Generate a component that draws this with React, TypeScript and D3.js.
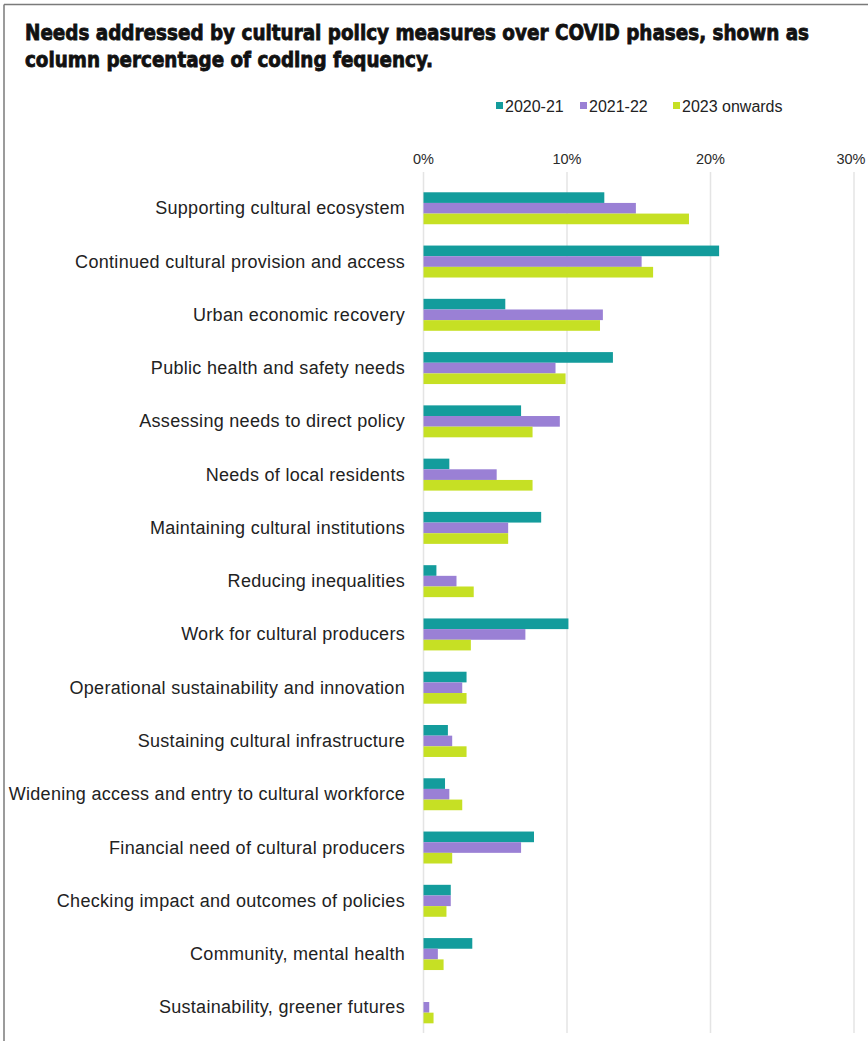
import React from "react";
import * as d3 from "d3";

// Needs categories, top to bottom
const categories: string[] = [
  "Supporting cultural ecosystem",
  "Continued cultural provision and access",
  "Urban economic recovery",
  "Public health and safety needs",
  "Assessing needs to direct policy",
  "Needs of local residents",
  "Maintaining cultural institutions",
  "Reducing inequalities",
  "Work for cultural producers",
  "Operational sustainability and innovation",
  "Sustaining cultural infrastructure",
  "Widening access and entry to cultural workforce",
  "Financial need of cultural producers",
  "Checking impact and outcomes of policies",
  "Community, mental health",
  "Sustainability, greener futures",
];

const seriesNames: string[] = ["2020-21", "2021-22", "2023 onwards"];
const seriesColors: string[] = ["#139c9c", "#9a80d5", "#c6e024"];

// Column percentage of coding frequency per phase
const phase2020: number[] = [12.6, 20.6, 5.7, 13.2, 6.8, 1.8, 8.2, 0.9, 10.1, 3.0, 1.7, 1.5, 7.7, 1.9, 3.4, 0];
const phase2021: number[] = [14.8, 15.2, 12.5, 9.2, 9.5, 5.1, 5.9, 2.3, 7.1, 2.7, 2.0, 1.8, 6.8, 1.9, 1.0, 0.4];
const phase2023: number[] = [18.5, 16.0, 12.3, 9.9, 7.6, 7.6, 5.9, 3.5, 3.3, 3.0, 3.0, 2.7, 2.0, 1.6, 1.4, 0.7];

const tickValues: number[] = [0, 10, 20, 30];

const titleLines: string[] = [
  "Needs addressed by cultural policy measures over COVID phases, shown as",
  "column percentage of coding fequency.",
];

const W = 868;
const H = 1041;

export default function App() {
  const series = [phase2020, phase2021, phase2023];

  const x = d3.scaleLinear().domain([0, 30]).range([423.5, 854]);
  const y = d3
    .scaleBand<string>()
    .domain(categories)
    .range([176.3, 1039.3])
    .paddingInner(0.4)
    .paddingOuter(0.3);
  const ySub = d3
    .scaleBand<string>()
    .domain(seriesNames)
    .range([0, y.bandwidth()])
    .padding(0);

  const sansFont = "'Liberation Sans', Arial, sans-serif";
  const titleFont = "'Liberation Sans Narrow', 'DejaVu Sans Condensed', 'Arial Narrow', sans-serif";

  const legendItems = [
    { x: 496, w: 56 },
    { x: 580, w: 58 },
    { x: 673, w: 102 },
  ];

  return (
    <svg
      width={W}
      height={H}
      style={{ position: "absolute", left: 0, top: 0, background: "#fff" }}
    >
      <rect x={0} y={0} width={W} height={H} fill="#ffffff" />
      {/* frame */}
      <line x1={4} y1={4.5} x2={W} y2={4.5} stroke="#7a7a7a" strokeWidth={1.5} />
      <line x1={4} y1={4.5} x2={4} y2={H} stroke="#7a7a7a" strokeWidth={1.5} />

      {/* title */}
      <g
        fontFamily={titleFont}
        fontWeight={700}
        fill="#111"
        stroke="#111"
        strokeWidth={0.8}
        fontSize={22}
      >
        <text x={25} y={40} textLength={784} lengthAdjust="spacingAndGlyphs">
          {titleLines[0]}
        </text>
        <text x={25} y={67} textLength={408} lengthAdjust="spacingAndGlyphs">
          {titleLines[1]}
        </text>
      </g>

      {/* legend */}
      <g fontFamily={sansFont} fontSize={16} fill="#222">
        {seriesNames.map((name, i) => (
          <g key={name} transform={`translate(${legendItems[i].x},0)`}>
            <rect x={0} y={102} width={7} height={7} fill={seriesColors[i]} />
            <text x={9} y={111.5}>{name}</text>
          </g>
        ))}
      </g>

      {/* grid and ticks */}
      <g>
        {tickValues.map((t) => (
          <g key={t}>
            <line
              x1={x(t)}
              x2={x(t)}
              y1={172}
              y2={1033}
              stroke="#e4e4e4"
              strokeWidth={1.5}
            />
            <text
              x={Math.min(x(t), W - 17)}
              y={159}
              textAnchor="middle"
              dominantBaseline="central"
              fontFamily={sansFont}
              fontSize={14.5}
              fill="#2a2a2a"
            >
              {`${t}%`}
            </text>
          </g>
        ))}
      </g>

      {/* bars */}
      <g>
        {categories.map((cat, ci) => (
          <g key={cat} transform={`translate(0,${y(cat)})`}>
            {series.map((vals, si) => (
              <rect
                key={si}
                x={x(0)}
                y={ySub(seriesNames[si])}
                width={Math.max(0, x(vals[ci]) - x(0))}
                height={ySub.bandwidth()}
                fill={seriesColors[si]}
              />
            ))}
          </g>
        ))}
      </g>

      {/* category labels */}
      <g fontFamily={sansFont} fontSize={18} fill="#222" textAnchor="end">
        {categories.map((cat) => (
          <text
            key={cat}
            x={405}
            y={(y(cat) as number) + y.bandwidth() / 2}
            dominantBaseline="central"
            letterSpacing={0.3}
          >
            {cat}
          </text>
        ))}
      </g>
    </svg>
  );
}
